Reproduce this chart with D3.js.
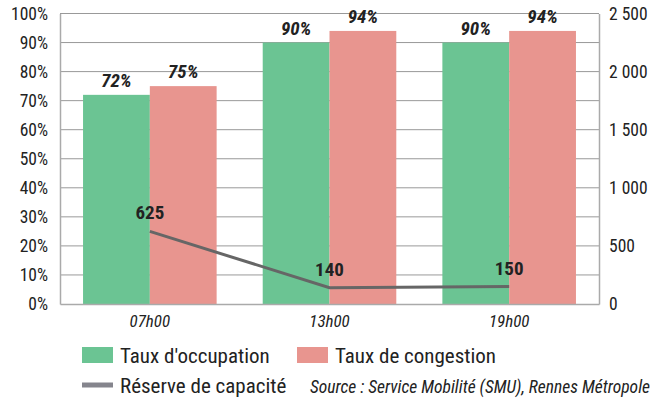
<!DOCTYPE html>
<html>
<head>
<meta charset="utf-8">
<script src="https://cdn.jsdelivr.net/npm/d3@7"></script>
<style>
  body { margin: 0; background: #fff; }
  svg text { font-family: "Liberation Sans Narrow", "Roboto Condensed", "Liberation Sans", Arial, sans-serif; fill: #222; }
</style>
</head>
<body>
<svg id="chart" width="652" height="400"></svg>
<script>
const hours = ['07h00', '13h00', '19h00'];
const occupation = [72, 90, 90];
const congestion = [75, 94, 94];
const reserve = [625, 140, 150];
const pctTicks = [0, 10, 20, 30, 40, 50, 60, 70, 80, 90, 100];
const rightTicks = [0, 500, 1000, 1500, 2000, 2500];

const svg = d3.select('svg#chart');
const margin = { top: 13.5, bottom: 96, left: 60, right: 53 };
const width = 652 - margin.left - margin.right;
const height = 400 - margin.top - margin.bottom;
const g = svg.append('g').attr('transform', `translate(${margin.left},${margin.top})`);

const x = d3.scaleBand().domain(hours).range([0, width]);
const xSub = d3.scaleBand().domain(['occ', 'cong']).range([0, x.bandwidth()]).paddingOuter(0.345);
const yL = d3.scaleLinear().domain([0, 100]).range([height, 0]);
const yR = d3.scaleLinear().domain([0, 2500]).range([height, 0]);

// gridlines
g.append('g')
  .selectAll('line').data(pctTicks.slice(1)).join('line')
  .attr('x1', 0).attr('x2', width)
  .attr('y1', d => yL(d)).attr('y2', d => yL(d))
  .attr('stroke', '#999').attr('stroke-width', 1);

const colours = { occ: '#6bc493', cong: '#e8958f' };
const series = [
  { key: 'occ', values: occupation },
  { key: 'cong', values: congestion }
];

// bars
series.forEach(s => {
  g.append('g').selectAll('rect').data(hours).join('rect')
    .attr('x', (d, i) => x(d) + xSub(s.key))
    .attr('width', xSub.bandwidth())
    .attr('y', (d, i) => yL(s.values[i]))
    .attr('height', (d, i) => height - yL(s.values[i]))
    .attr('fill', colours[s.key]);
  g.append('g').selectAll('text').data(hours).join('text')
    .attr('x', (d, i) => x(d) + xSub(s.key) + xSub.bandwidth() / 2)
    .attr('y', (d, i) => yL(s.values[i]) - 8)
    .attr('text-anchor', 'middle')
    .style('font-size', '19px').style('font-weight', 'bold').style('font-style', 'italic')
    .text((d, i) => s.values[i] + '%');
});

// axis frame
g.append('g')
  .attr('transform', `translate(0,${height})`)
  .call(d3.axisBottom(x).tickSize(0).tickPadding(11))
  .call(a => a.select('.domain').attr('stroke', '#aaa').attr('stroke-width', 1.5))
  .call(a => a.selectAll('text').style('font-size', '17px').style('font-style', 'italic').attr('fill', '#333'));

g.append('g')
  .call(d3.axisLeft(yL).tickValues(pctTicks).tickSize(0).tickPadding(12).tickFormat(d => d + '%'))
  .call(a => a.select('.domain').attr('stroke', '#aaa').attr('stroke-width', 1.5))
  .call(a => a.selectAll('text').style('font-size', '17.5px').attr('fill', '#222'));

g.append('g')
  .attr('transform', `translate(${width},0)`)
  .call(d3.axisRight(yR).tickValues(rightTicks).tickSize(0).tickPadding(10)
    .tickFormat(d => d3.format(',')(d).replace(',', '\u00a0')))
  .call(a => a.select('.domain').attr('stroke', '#aaa').attr('stroke-width', 1.5))
  .call(a => a.selectAll('text').style('font-size', '17.5px').attr('fill', '#222'));

// reserve line
const lineGen = d3.line()
  .x((d, i) => x(hours[i]) + x.bandwidth() / 2)
  .y(d => yR(d));
g.append('path').datum(reserve)
  .attr('d', lineGen)
  .attr('fill', 'none').attr('stroke', '#666').attr('stroke-width', 3);
g.append('g').selectAll('text').data(reserve).join('text')
  .attr('x', (d, i) => x(hours[i]) + x.bandwidth() / 2)
  .attr('y', d => yR(d) - 12)
  .attr('text-anchor', 'middle')
  .style('font-size', '19px').style('font-weight', 'bold')
  .text(d => d);

// legend
const legend = svg.append('g');
const legendItems = [
  { label: "Taux d'occupation", type: 'rect', colour: colours.occ, x: 82, y: 355 },
  { label: 'Taux de congestion', type: 'rect', colour: colours.cong, x: 297, y: 355 },
  { label: 'Réserve de capacité', type: 'line', colour: '#85858d', x: 82, y: 385 }
];
legendItems.forEach(it => {
  if (it.type === 'rect') {
    legend.append('rect').attr('x', it.x).attr('y', it.y - 8).attr('width', 31).attr('height', 16).attr('fill', it.colour);
  } else {
    legend.append('rect').attr('x', it.x).attr('y', it.y - 2.5).attr('width', 31).attr('height', 5).attr('fill', it.colour);
  }
  legend.append('text').attr('x', it.x + 38).attr('y', it.y + 7.5)
    .style('font-size', '21px').text(it.label);
});
legend.append('text').attr('x', 650).attr('y', 393)
  .attr('text-anchor', 'end')
  .style('font-size', '17.5px').style('font-style', 'italic').attr('fill', '#444')
  .text('Source : Service Mobilité (SMU), Rennes Métropole');
</script>
</body>
</html>
